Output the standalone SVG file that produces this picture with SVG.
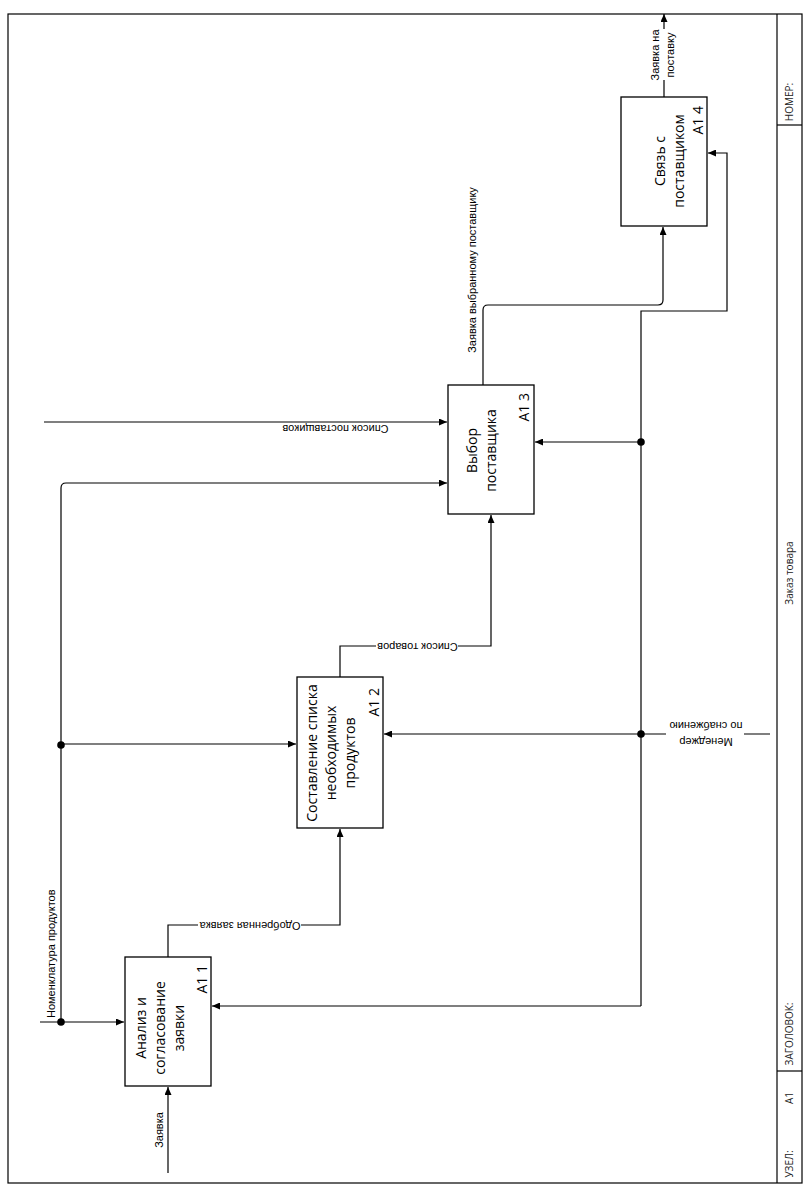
<svg xmlns="http://www.w3.org/2000/svg" width="811" height="1195" viewBox="0 0 811 1195">
<style>
.frame{fill:none;stroke:#000;stroke-width:1.2}
.box{fill:#fff;stroke:#000;stroke-width:1.3}
.ln{fill:none;stroke:#000;stroke-width:1.2}
.bt{font-family:"Open Sans","Liberation Sans",sans-serif;font-size:14px;fill:#000}
.lb{font-family:"Liberation Sans",Arial,sans-serif;font-size:11px;fill:#000}
.st{font-family:"Open Sans","Liberation Sans",sans-serif;font-size:10px;fill:#222}
.bg{fill:#fff}
.dot{fill:#000}
</style>
<defs>
<marker id="ar" markerUnits="userSpaceOnUse" markerWidth="9" markerHeight="7" refX="8" refY="3.5" orient="auto">
<path d="M0,0 L8,3.5 L0,7 z" fill="#000"/>
</marker>
</defs>
<rect x="0" y="0" width="811" height="1195" fill="#fff"/>
<g id="frame">
<rect class="frame" x="8" y="14" width="794" height="1169"/>
<line class="frame" x1="777" y1="14" x2="777" y2="1183"/>
<line class="frame" x1="777" y1="125" x2="802" y2="125"/>
<line class="frame" x1="777" y1="1071" x2="802" y2="1071"/>
<text class="st" transform="translate(793,102) rotate(-90)" text-anchor="middle">НОМЕР:</text>
<text class="st" transform="translate(793,573) rotate(-90)" text-anchor="middle">Заказ товара</text>
<text class="st" transform="translate(793,1034) rotate(-90)" text-anchor="middle">ЗАГОЛОВОК:</text>
<text class="st" transform="translate(793,1098) rotate(-90)" text-anchor="middle">A1</text>
<text class="st" transform="translate(793,1164) rotate(-90)" text-anchor="middle">УЗЕЛ:</text>
</g>
<g id="connectors">
<path class="ln" d="M168,1173 V1087" marker-end="url(#ar)"/>
<path class="ln" d="M40,1022 H124" marker-end="url(#ar)"/>
<path class="ln" d="M61,1022 V488 Q61,483 66,483 H447" marker-end="url(#ar)"/>
<path class="ln" d="M61,744 H296" marker-end="url(#ar)"/>
<path class="ln" d="M44,422 H447" marker-end="url(#ar)"/>
<path class="ln" d="M168,957 V925 H340 V829" marker-end="url(#ar)"/>
<path class="ln" d="M340,677 V646 H491 V515" marker-end="url(#ar)"/>
<path class="ln" d="M483,385 V310 Q483,305 488,305 H658 Q663,305 663,300 V227" marker-end="url(#ar)"/>
<path class="ln" d="M770,734 H384" marker-end="url(#ar)"/>
<path class="ln" d="M641,1006 V311 H727 V153 H708" marker-end="url(#ar)"/>
<path class="ln" d="M641,1006 H212" marker-end="url(#ar)"/>
<path class="ln" d="M641,442 H535" marker-end="url(#ar)"/>
<path class="ln" d="M664,97 V14" marker-end="url(#ar)"/>
<circle class="dot" cx="61" cy="1022" r="3.8"/>
<circle class="dot" cx="61" cy="745" r="3.8"/>
<circle class="dot" cx="641" cy="442" r="3.8"/>
<circle class="dot" cx="641" cy="734" r="3.8"/>
<text class="lb" transform="translate(163,1130) rotate(-90)" text-anchor="middle">Заявка</text>
<text class="lb" transform="translate(55,1018) rotate(-90)" text-anchor="start">Номенклатура продуктов</text>
<text class="lb" transform="translate(335.5,424.8) rotate(180)" text-anchor="middle">Список поставщиков</text>
<rect class="bg" x="198" y="919" width="103" height="12"/>
<text class="lb" transform="translate(250,922) rotate(180)" text-anchor="middle">Одобренная заявка</text>
<rect class="bg" x="376" y="640" width="82" height="12"/>
<text class="lb" transform="translate(417.5,642.8) rotate(180)" text-anchor="middle">Список товаров</text>
<text class="lb" transform="translate(476,270) rotate(-90)" text-anchor="middle">Заявка выбранному поставщику</text>
<rect class="bg" x="666" y="718" width="78" height="30"/>
<text class="lb" transform="translate(706,738) rotate(180)" text-anchor="middle"><tspan x="0" y="0">Менеджер</tspan><tspan x="0" dy="16">по снабжению</tspan></text>
<rect class="bg" x="650" y="29" width="28" height="51"/>
<text class="lb" transform="translate(658.6,55) rotate(-90)" text-anchor="middle"><tspan x="0" y="0">Заявка на</tspan><tspan x="0" dy="15.5">поставку</tspan></text>
</g>
<g id="A11">
<rect class="box" x="125" y="957" width="86" height="129"/>
<text class="bt" transform="translate(146,1028) rotate(-90)" text-anchor="middle"><tspan x="0" y="0">Анализ и</tspan><tspan x="0" dy="18.8">согласование</tspan><tspan x="0" dy="18.8">заявки</tspan></text>
<text class="bt" transform="translate(207,965) rotate(-90)" text-anchor="end">A1 1</text>
</g>
<g id="A12">
<rect class="box" x="297" y="677" width="86" height="151"/>
<text class="bt" transform="translate(317,753) rotate(-90)" text-anchor="middle"><tspan x="0" y="0">Составление списка</tspan><tspan x="0" dy="19.2">необходимых</tspan><tspan x="0" dy="19.2">продуктов</tspan></text>
<text class="bt" transform="translate(379,688) rotate(-90)" text-anchor="end">A1 2</text>
</g>
<g id="A13">
<rect class="box" x="448" y="385" width="86" height="129"/>
<text class="bt" transform="translate(476.5,450.5) rotate(-90)" text-anchor="middle"><tspan x="0" y="0">Выбор</tspan><tspan x="0" dy="19">поставщика</tspan></text>
<text class="bt" transform="translate(529,393) rotate(-90)" text-anchor="end">A1 3</text>
</g>
<g id="A14">
<rect class="box" x="621" y="97" width="86" height="129"/>
<text class="bt" transform="translate(665,161) rotate(-90)" text-anchor="middle"><tspan x="0" y="0">Связь с</tspan><tspan x="0" dy="19">поставщиком</tspan></text>
<text class="bt" transform="translate(702.5,106) rotate(-90)" text-anchor="end">A1 4</text>
</g>
</svg>
